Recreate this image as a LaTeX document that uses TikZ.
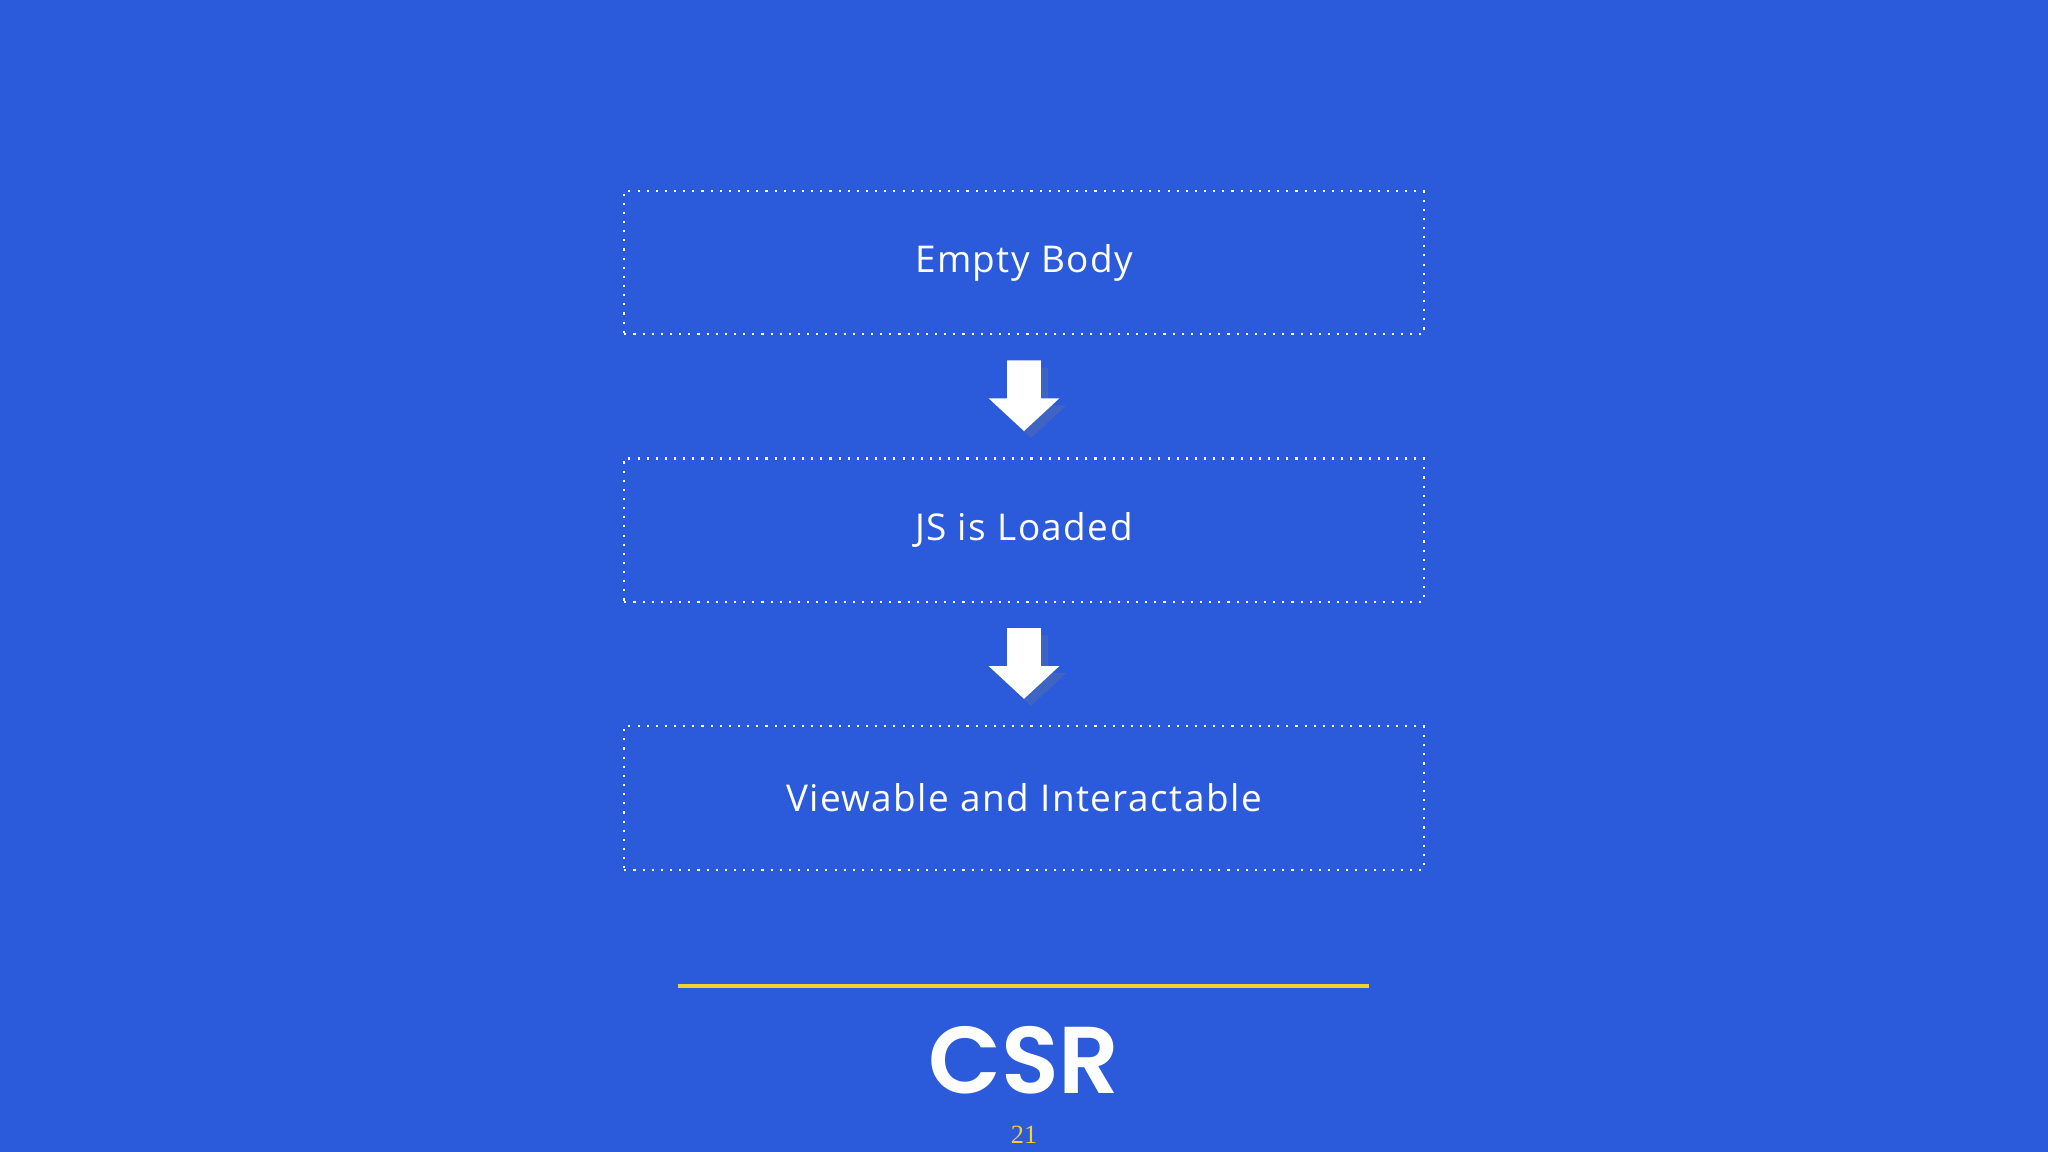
\documentclass[tikz,border=0pt]{standalone}
\usepackage{fontspec}
\setmainfont{Open Sans}
\newfontfamily\titlefont{Poppins}[UprightFont=* SemiBold]
\newfontfamily\numfont{Liberation Serif}
\usetikzlibrary{shadows}
\definecolor{bg}{HTML}{2B5BDB}
\definecolor{yel}{HTML}{F2D22E}
\begin{document}
\begin{tikzpicture}[x=0.013061cm,y=-0.013061cm,
  stepbox/.style={draw=white,dotted,line width=0.6pt,minimum width=612*0.013061cm,minimum height=110*0.013061cm,text=white,font=\fontsize{10.5}{12}\selectfont,inner sep=0pt},
  arr/.style={fill=white,draw=none,drop shadow={shadow xshift=2pt,shadow yshift=-2pt,opacity=0.25}}]
\fill[bg] (0,0) rectangle (1568,882);
\useasboundingbox (0,0) rectangle (1568,882);
\node[stepbox] (b1) at (784,201) {\addfontfeature{LetterSpace=4}Empty Body};
\node[stepbox] (b2) at (784,406) {\addfontfeature{LetterSpace=4}JS is Loaded};
\node[stepbox] (b3) at (784,611) {\addfontfeature{LetterSpace=4}Viewable and Interactable};
\foreach \y in {276,481}{
  \path[arr] (771,\y) -- (797,\y) -- (797,\y+29) -- (811,\y+29) -- (784,\y+54) -- (757,\y+29) -- (771,\y+29) -- cycle;
}
\coordinate (l1) at (519,755);
\coordinate (l2) at (1048,755);
\draw[yel,line width=1.2pt] (l1) -- (l2);
\node[text=white,font=\titlefont\fontsize{27}{30}\selectfont] (csr) at (784,812) {CSR};
\node[text=yel,font=\numfont\fontsize{7.5}{9}\selectfont] (num) at (784,869) {21};
\end{tikzpicture}
\end{document}
